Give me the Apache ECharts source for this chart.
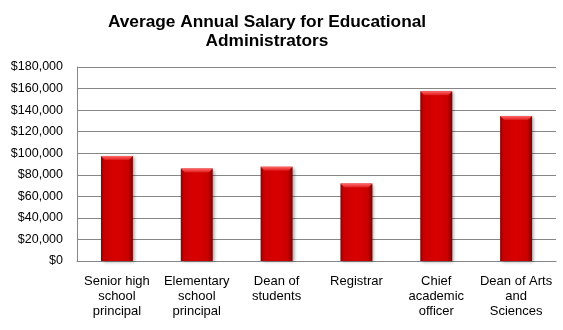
<!DOCTYPE html>
<html>
<head>
<meta charset="utf-8">
<script src="https://cdn.jsdelivr.net/npm/echarts@6/dist/echarts.min.js"></script>
<style>
  html, body { margin: 0; padding: 0; background: #fff; }
  #chart { width: 563px; height: 330px; }
</style>
</head>
<body>
<div id="chart"></div>
<script>
// Average annual salary by administrator role (USD)
const titleText = 'Average Annual Salary for Educational\nAdministrators';
const categories = [
  'Senior high\nschool\nprincipal',
  'Elementary\nschool\nprincipal',
  'Dean of\nstudents',
  'Registrar',
  'Chief\nacademic\nofficer',
  'Dean of Arts\nand\nSciences'
];
const salaries = [97400, 85800, 87500, 71800, 157500, 134500];
const yTicks = { min: 0, max: 180000, interval: 20000 };

const chart = echarts.init(document.getElementById('chart'), null, { renderer: 'canvas' });

const barFill = new echarts.graphic.LinearGradient(0, 0, 1, 0, [
  { offset: 0.00, color: '#8e0000' },
  { offset: 0.10, color: '#c80000' },
  { offset: 0.45, color: '#d80000' },
  { offset: 0.85, color: '#cc0000' },
  { offset: 1.00, color: '#7a0000' }
]);

chart.setOption({
  animation: false,
  title: {
    text: titleText,
    left: 262,
    textAlign: 'center',
    top: 8,
    textStyle: {
      fontFamily: 'Liberation Sans, Arial, sans-serif',
      fontSize: 17.3,
      fontWeight: 'bold',
      color: '#000',
      lineHeight: 18.5
    }
  },
  grid: { left: 77, right: 7, top: 67, bottom: 69, containLabel: false },
  xAxis: {
    type: 'category',
    data: categories,
    axisLine: { lineStyle: { color: '#868686', width: 1 } },
    axisTick: { show: false },
    axisLabel: {
      interval: 0,
      margin: 13,
      fontFamily: 'Liberation Sans, Arial, sans-serif',
      fontSize: 13,
      lineHeight: 15,
      color: '#000'
    }
  },
  yAxis: {
    type: 'value',
    min: yTicks.min,
    max: yTicks.max,
    interval: yTicks.interval,
    axisLine: { show: true, lineStyle: { color: '#868686', width: 1 } },
    axisTick: { show: false },
    splitLine: { lineStyle: { color: '#868686', width: 1 } },
    axisLabel: {
      margin: 14,
      fontFamily: 'Liberation Sans, Arial, sans-serif',
      fontSize: 12.5,
      color: '#000',
      formatter: v => '$' + v.toLocaleString('en-US')
    }
  },
  series: [
    {
      type: 'bar',
      data: salaries,
      barWidth: '40%',
      itemStyle: {
        color: barFill,
        shadowColor: 'rgba(0,0,0,0.35)',
        shadowBlur: 3,
        shadowOffsetX: 2,
        shadowOffsetY: 1
      }
    },
    {
      // bevelled highlight along the top of each bar
      type: 'custom',
      data: salaries,
      silent: true,
      z: 3,
      renderItem: function (params, api) {
        const top = api.coord([api.value(0), api.value(1)]);
        const w = api.size([1, 0])[0] * 0.4;
        const x0 = top[0] - w / 2, x1 = top[0] + w / 2;
        const y = top[1], b = 4;
        return {
          type: 'polygon',
          shape: { points: [[x0, y], [x1, y], [x1 - b, y + b], [x0 + b, y + b]] },
          style: {
            fill: new echarts.graphic.LinearGradient(0, 0, 0, 1, [
              { offset: 0, color: '#ff6a6a' },
              { offset: 1, color: '#e01818' }
            ])
          }
        };
      },
      encode: { x: 0, y: 1 }
    }
  ]
});
</script>
</body>
</html>
